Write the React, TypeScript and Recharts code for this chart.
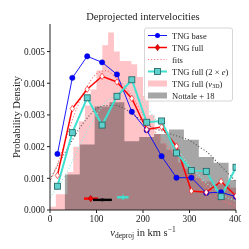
import React from 'react';
import { ComposedChart, Area, Line, Scatter, XAxis, YAxis } from 'recharts';

// ---------- data ----------
const binCenters = [16, 48, 80, 112, 144, 176, 208, 240, 272, 304, 336, 368, 400];
const tngBase = [0.00177, 0.00417, 0.00485, 0.00466, 0.00428, 0.0031, 0.00252, 0.0017, 0.00102, 0.00102, 0.00054, 0.00056, 0.00042];
const tngFull = [0.00109, 0.0032, 0.00381, 0.00422, 0.00404, 0.00352, 0.00254, 0.00262, 0.00201, 0.0006, 0.00056, 0.0009, 0.00044];
const tngFull2e = [0.00075, 0.00244, 0.00354, 0.00268, 0.00359, 0.00411, 0.00277, 0.00281, 0.0018, 0.00125, 0.00122, 0.00042, 0.00135];

const pinkEdges = [0, 12.5, 25, 37.5, 50, 62.5, 75, 87.5, 100, 112.5, 125, 137.5, 150, 162.5, 175, 187.5, 200, 212.5, 225, 237.5, 250, 262.5, 275, 287.5, 300, 312.5, 325, 337.5, 350, 362.5, 375, 387.5, 400];
const pinkHeights = [0.0001, 0.0005, 0.0005, 0.0012, 0.002, 0.0028, 0.0033, 0.0038, 0.0044, 0.0052, 0.0056, 0.005, 0.0047, 0.0047, 0.0046, 0.0042, 0.0036, 0.003, 0.0024, 0.0021, 0.0019, 0.0018, 0.0015, 0.0013, 0.0012, 0.001, 0.0009, 0.0009, 0.0008, 0.0008, 0.0008, 0.0007];

const greyEdges = [32, 64, 96, 128, 160, 192, 224, 256, 288, 320, 352, 384, 416];
const greyHeights = [0.00112, 0.00207, 0.00327, 0.0034, 0.00217, 0.0023, 0.0024, 0.00254, 0.00222, 0.00167, 0.00149, 0.00095];

const fitX = [0, 20, 40, 60, 80, 100, 120, 140, 160, 180, 200, 220, 240, 260, 280, 300, 320, 340, 360, 380, 400];
const fitRed = [0.0009, 0.0016, 0.0025, 0.0033, 0.0039, 0.0043, 0.0044, 0.0042, 0.0039, 0.0035, 0.003, 0.0026, 0.0022, 0.0019, 0.0016, 0.0013, 0.001, 0.0007, 0.0004, 0.00025, 0.00012];
const fitCyan = [0.0004, 0.0008, 0.0013, 0.0019, 0.0025, 0.003, 0.0034, 0.0036, 0.0037, 0.0036, 0.0034, 0.003, 0.0026, 0.0022, 0.0018, 0.0014, 0.0011, 0.0008, 0.0006, 0.0004, 0.0003];
const fitGrey = [0.00095, 0.0015, 0.002, 0.0025, 0.0029, 0.0032, 0.0033, 0.0033, 0.0032, 0.003, 0.0028, 0.0026, 0.0025, 0.0024, 0.0023, 0.0022, 0.002, 0.0018, 0.0015, 0.0012, 0.0009];

// means with horizontal spreads near the bottom
const meanRed = { lo: 73, mid: 87.5, hi: 103, y: 0.00036 };
const meanBlack = { lo: 92.5, mid: 112.5, hi: 133, y: 0.00032 };
const meanCyan = { lo: 144, mid: 157, hi: 169, y: 0.0004 };

const xTicks = [0, 100, 200, 300, 400];
const yTicks = [0, 0.001, 0.002, 0.003, 0.004, 0.005];

// ---------- derived tables ----------
const pts = (xs: number[], ys: number[]) => xs.map((x, i) => ({ x, y: ys[i] }));
const steps = (edges: number[], h: number[]) =>
  edges.map((x, i) => ({ x, y: i < h.length ? h[i] : h[h.length - 1] }));

const baseData = pts(binCenters, tngBase);
const fullData = pts(binCenters, tngFull);
const full2eData = pts(binCenters, tngFull2e);
const pinkData = steps(pinkEdges, pinkHeights);
const greyData = steps(greyEdges, greyHeights);
const fitRedData = pts(fitX, fitRed);
const fitCyanData = pts(fitX, fitCyan);
const fitGreyData = pts(fitX, fitGrey);
const seg = (m: { lo: number; hi: number; y: number }) => [{ x: m.lo, y: m.y }, { x: m.hi, y: m.y }];
const mid = (m: { mid: number; y: number }) => [{ x: m.mid, y: m.y }];

const FONT = '"Liberation Serif", "DejaVu Serif", serif';

const Diamond = (props: any) => {
  const { cx, cy, fill, stroke } = props;
  if (cx == null || cy == null) return null;
  return (
    <polygon
      key={`d-${cx}-${cy}`}
      points={`${cx},${cy - 3.2} ${cx + 2.2},${cy} ${cx},${cy + 3.2} ${cx - 2.2},${cy}`}
      fill={fill || 'red'}
      stroke={stroke || '#8b0000'}
      strokeWidth={0.6}
    />
  );
};
const Square = (props: any) => {
  const { cx, cy } = props;
  if (cx == null || cy == null) return null;
  return (
    <rect key={`s-${cx}-${cy}`} x={cx - 3} y={cy - 3} width={6} height={6} fill="#5fd0cc" stroke="#1f5f5f" strokeWidth={0.8} />
  );
};
const Circle = (props: any) => {
  const { cx, cy } = props;
  if (cx == null || cy == null) return null;
  return <circle key={`c-${cx}-${cy}`} cx={cx} cy={cy} r={2.7} fill="#0000ff" stroke="#0000aa" strokeWidth={0.4} />;
};

const RedMean = (p: any) => <Diamond {...p} fill="red" stroke="#8b0000" />;
const BlackMean = (p: any) => (p.cx == null ? null : <circle cx={p.cx} cy={p.cy} r={1.6} fill="#000" />);
const CyanMean = (p: any) =>
  p.cx == null ? null : (
    <g>
      <line x1={p.cx} y1={p.cy - 2.5} x2={p.cx} y2={p.cy + 2.5} stroke="#40e0d0" strokeWidth={1.4} />
      <circle cx={p.cx} cy={p.cy} r={1.4} fill="#40e0d0" />
    </g>
  );

export default function App() {
  const axisColor = '#222';
  const tickStyle = { fontSize: 9.3, fontFamily: FONT, fill: '#222' };
  return (
    <div style={{ position: 'relative', width: 241, height: 241 }}>
      <style>{`.recharts-area, .recharts-area g, .recharts-area path { mix-blend-mode: multiply; }`}</style>
      <ComposedChart width={241} height={241} margin={{ top: 16, right: 13, bottom: 0, left: 0 }}>
        <XAxis
          xAxisId="b"
          type="number"
          dataKey="x"
          domain={[0, 400]}
          ticks={xTicks}
          allowDataOverflow
          height={39}
          stroke={axisColor}
          tickSize={3}
          tickMargin={2}
          tick={tickStyle}
        />
        <XAxis xAxisId="t" orientation="top" type="number" dataKey="x" domain={[0, 400]} ticks={xTicks} height={0} stroke={axisColor} tick={false} tickSize={0} />
        <YAxis
          yAxisId="l"
          type="number"
          domain={[0, 0.00587]}
          ticks={yTicks}
          allowDataOverflow
          width={42}
          stroke={axisColor}
          tickSize={3}
          tickMargin={2}
          tick={tickStyle}
          tickFormatter={(v: number) => v.toFixed(3)}
        />
        <YAxis yAxisId="r" orientation="right" type="number" domain={[0, 0.00587]} width={0} stroke={axisColor} tick={false} tickSize={0} />

        <Area xAxisId="b" yAxisId="l" data={pinkData} dataKey="y" type="stepAfter" fill="#ffc4c8" fillOpacity={1} stroke="none" isAnimationActive={false} />
        <Area xAxisId="b" yAxisId="l" data={greyData} dataKey="y" type="stepAfter" fill="#a6a6a6" fillOpacity={1} stroke="none" isAnimationActive={false} />

        <Line xAxisId="b" yAxisId="l" data={fitGreyData} dataKey="y" type="monotone" stroke="#555" strokeWidth={1.1} strokeDasharray="1.1 2" dot={false} isAnimationActive={false} />
        <Line xAxisId="b" yAxisId="l" data={fitRedData} dataKey="y" type="monotone" stroke="#ff7070" strokeWidth={1.1} strokeDasharray="1.1 2" dot={false} isAnimationActive={false} />
        <Line xAxisId="b" yAxisId="l" data={fitCyanData} dataKey="y" type="monotone" stroke="#8ae8e0" strokeWidth={1.1} strokeDasharray="1.1 2" dot={false} isAnimationActive={false} />

        <Line xAxisId="b" yAxisId="l" data={baseData} dataKey="y" type="linear" stroke="#0000ff" strokeWidth={0.9} dot={<Circle />} isAnimationActive={false} />
        <Line xAxisId="b" yAxisId="l" data={fullData} dataKey="y" type="linear" stroke="#ff0000" strokeWidth={1.5} dot={<Diamond />} isAnimationActive={false} />
        <Line xAxisId="b" yAxisId="l" data={full2eData} dataKey="y" type="linear" stroke="#40e0d0" strokeWidth={2} dot={<Square />} isAnimationActive={false} />

        <Line xAxisId="b" yAxisId="l" data={seg(meanRed)} dataKey="y" stroke="#ff0000" strokeWidth={2.4} dot={false} isAnimationActive={false} />
        <Line xAxisId="b" yAxisId="l" data={seg(meanBlack)} dataKey="y" stroke="#000" strokeWidth={2.4} dot={false} isAnimationActive={false} />
        <Line xAxisId="b" yAxisId="l" data={seg(meanCyan)} dataKey="y" stroke="#40e0d0" strokeWidth={2.4} dot={false} isAnimationActive={false} />
        <Scatter xAxisId="b" yAxisId="l" data={mid(meanRed)} dataKey="y" shape={RedMean} isAnimationActive={false} />
        <Scatter xAxisId="b" yAxisId="l" data={mid(meanBlack)} dataKey="y" shape={BlackMean} isAnimationActive={false} />
        <Scatter xAxisId="b" yAxisId="l" data={mid(meanCyan)} dataKey="y" shape={CyanMean} isAnimationActive={false} />
      </ComposedChart>

      <svg width={249} height={249} style={{ position: 'absolute', left: -8, top: -8, pointerEvents: 'none' }} fontFamily={FONT}>
        <text x={143} y={19.5} textAnchor="middle" fontSize={10.5} fill="#222">Deprojected intervelocities</text>
        <text x={19.5} y={117} textAnchor="middle" fontSize={10.5} fill="#222" transform="rotate(-90 19.5 117)">Probability Density</text>
        <text x={143} y={236} textAnchor="middle" fontSize={10.5} fill="#222">
          <tspan fontStyle="italic">v</tspan>
          <tspan fontSize={7.5} dy={2}>deproj</tspan>
          <tspan dy={-2}> in km s</tspan>
          <tspan fontSize={7.5} dy={-4}>−1</tspan>
        </text>

        {/* legend */}
        <rect x={144.5} y={28} width={88} height={73} rx={2} fill="#fff" fillOpacity={0.85} stroke="#cccccc" strokeWidth={0.8} />
        <line x1={148} y1={35.5} x2={167} y2={35.5} stroke="#0000ff" strokeWidth={0.9} />
        <circle cx={157.5} cy={35.5} r={2.5} fill="#0000ff" />
        <text x={172} y={38.5} fontSize={8.5} fill="#222">TNG base</text>

        <line x1={148} y1={47.5} x2={167} y2={47.5} stroke="#ff0000" strokeWidth={1.5} />
        <polygon points="157.5,44.3 159.7,47.5 157.5,50.7 155.3,47.5" fill="red" stroke="#8b0000" strokeWidth={0.6} />
        <text x={172} y={50.5} fontSize={8.5} fill="#222">TNG full</text>

        <line x1={148} y1={59.5} x2={167} y2={59.5} stroke="#ff7070" strokeWidth={1.1} strokeDasharray="1.1 2" />
        <text x={172} y={62.5} fontSize={8.5} fill="#222">fits</text>

        <line x1={148} y1={71.5} x2={167} y2={71.5} stroke="#40e0d0" strokeWidth={2} />
        <rect x={154.5} y={68.5} width={6} height={6} fill="#5fd0cc" stroke="#1f5f5f" strokeWidth={0.8} />
        <text x={172} y={74.5} fontSize={8.5} fill="#222">TNG full (2 × <tspan fontStyle="italic">e</tspan>)</text>

        <rect x={148} y={80.5} width={19} height={6} fill="#ffc4c8" />
        <text x={172} y={86.5} fontSize={8.5} fill="#222">
          TNG full (<tspan fontStyle="italic">v</tspan>
          <tspan fontSize={6} dy={1.5}>3D</tspan>
          <tspan dy={-1.5}>)</tspan>
        </text>

        <rect x={148} y={92.5} width={19} height={6} fill="#a6a6a6" />
        <text x={172} y={98.5} fontSize={8.5} fill="#222">Nottale + 18</text>
      </svg>
    </div>
  );
}
